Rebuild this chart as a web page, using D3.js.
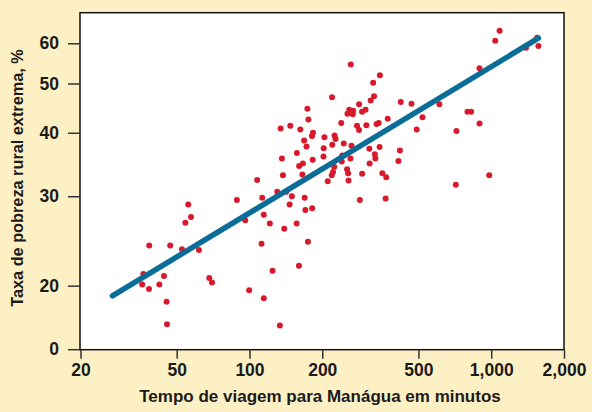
<!DOCTYPE html>
<html>
<head>
<meta charset="utf-8">
<script src="https://cdn.jsdelivr.net/npm/d3@7"></script>
<style>
  html, body { margin: 0; padding: 0; background: #fdf0c4; }
  svg { display: block; }
  text { font-family: "Liberation Sans", Arial, sans-serif; fill: #1b1b1b; }
</style>
</head>
<body>
<script>
// travel time to Managua (minutes) vs extreme rural poverty rate (%)
const travelMinutes = [
  36.4, 36.0, 38.4, 38.5, 42.4, 44.3, 45.4, 45.6, 47.0, 52.6,
  54.3, 55.8, 57.3, 61.8, 68.2, 70.0, 88.7, 96.0, 99.7, 107.6,
  112.2, 112.9, 114.6, 114.6, 121.4, 124.6, 130.3, 133.6, 137.5, 139.3,
  146.6, 149.8, 156.7, 160.2, 165.5, 169.1, 170.3, 174.5, 181.7, 210.7,
  173.6, 175.2, 134.5, 147.5, 162.3, 183.1, 181.3, 168.3, 204.2, 172.1,
  202.8, 157.1, 136.2, 182.6, 202.4, 166.3, 160.5, 262.5, 346.3, 324.8,
  219.5, 327.6, 317.2, 284.1, 258.8, 268.3, 254.3, 267.5, 292.1, 302.1,
  422.4, 467.9, 610.2, 373.1, 519.7, 239.7, 278.5, 283.9, 304.4, 335.5,
  342.3, 491.7, 224.8, 227.0, 220.0, 245.5, 264.2, 313.2, 345.3, 242.0,
  261.7, 330.1, 331.7, 240.8, 314.1, 413.2, 419.2, 717.9, 797.4, 826.1,
  894.2, 894.2, 1039, 1083, 1393, 1548, 1567, 224.2, 253.4, 255.8,
  221.6, 218.9, 292.4, 354.6, 367.8, 981.1, 256.8, 713.7, 286.1, 365.7,
  142.0
];
const povertyRate = [
  21.1, 20.1, 19.7, 24.0, 20.1, 20.9, 18.6, 16.8, 24.0, 23.6,
  26.6, 28.9, 27.3, 23.5, 20.7, 20.3, 29.5, 26.9, 19.6, 32.3,
  24.2, 29.8, 27.6, 18.9, 26.5, 21.4, 30.6, 16.7, 33.0, 25.9,
  28.9, 30.0, 26.5, 21.9, 33.1, 29.8, 28.2, 24.4, 28.4, 32.1,
  44.6, 42.5, 40.8, 41.3, 40.6, 40.0, 39.4, 38.6, 39.2, 37.6,
  37.3, 36.5, 35.6, 35.4, 35.9, 34.8, 34.4, 54.5, 51.9, 50.2,
  47.0, 47.2, 46.3, 45.5, 44.4, 44.2, 43.6, 43.5, 44.0, 44.4,
  46.0, 45.6, 45.5, 42.6, 42.9, 41.8, 41.3, 40.5, 41.4, 41.6,
  41.8, 40.6, 39.5, 38.9, 37.9, 38.1, 37.7, 37.2, 37.5, 36.1,
  35.6, 36.3, 35.6, 35.1, 34.8, 35.2, 36.9, 40.3, 44.0, 44.0,
  41.7, 53.6, 60.7, 63.5, 58.8, 61.5, 59.3, 34.3, 33.9, 33.3,
  33.5, 33.0, 33.2, 33.3, 32.7, 33.0, 32.2, 31.6, 29.5, 29.7,
  30.6
];
// fitted line end points
const fitMinutes = [27.1, 1567];
const fitRate = [19.1, 61.4];

const xTicks = [20, 50, 100, 200, 500, 1000, 2000];
const yTicks = [20, 30, 40, 50, 60];
const yBreakLabel = '0';

const W = 592, H = 412;
const box = { left: 80, top: 12.7, right: 564, bottom: 349.7 };

const svg = d3.select('body').append('svg')
    .attr('width', W)
    .attr('height', H);

const x = d3.scaleLog().domain([20, 2000]).range([80.5, 564]);
const y = d3.scaleLog().domain([20, 60]).range([285.7, 43.3]);

// plot area
svg.append('rect')
    .attr('x', box.left).attr('y', box.top)
    .attr('width', box.right - box.left)
    .attr('height', box.bottom - box.top)
    .attr('fill', '#fff')
    .attr('stroke', '#111')
    .attr('stroke-width', 1.5);

// axes
const yAxis = svg.append('g')
    .attr('transform', `translate(${box.left},0)`)
    .call(d3.axisLeft(y).tickValues(yTicks).tickFormat(d3.format('d')).tickSize(12).tickPadding(9));

const xAxis = svg.append('g')
    .attr('transform', `translate(0,${box.bottom})`)
    .call(d3.axisBottom(x).tickValues(xTicks).tickFormat(d3.format(',')).tickSize(9).tickPadding(5));

[xAxis, yAxis].forEach(g => {
    g.select('.domain').remove();
    g.selectAll('line').attr('stroke', '#333').attr('stroke-width', 1.5);
    g.selectAll('text')
        .style('font-family', '"Liberation Sans", Arial, sans-serif')
        .style('font-size', '17.5px')
        .style('font-weight', 'bold')
        .attr('fill', '#1b1b1b');
});

// "0" at the broken bottom of the y axis
const zero = svg.append('g').attr('transform', `translate(${box.left},${box.bottom})`);
zero.append('line').attr('x1', -12).attr('x2', 0).attr('stroke', '#333').attr('stroke-width', 1.5);
zero.append('text')
    .attr('x', -21).attr('dy', '0.32em')
    .attr('text-anchor', 'end')
    .style('font-size', '17.5px')
    .style('font-weight', 'bold')
    .text(yBreakLabel);

// points
svg.append('g')
  .selectAll('circle')
  .data(travelMinutes.map((m, i) => [m, povertyRate[i]]))
  .join('circle')
    .attr('cx', d => x(d[0]))
    .attr('cy', d => y(d[1]))
    .attr('r', 3)
    .attr('fill', '#d8192c');

// fitted line
svg.append('path')
    .datum(fitMinutes.map((m, i) => [m, fitRate[i]]))
    .attr('d', d3.line().x(d => x(d[0])).y(d => y(d[1])))
    .attr('stroke', '#0a6d97')
    .attr('stroke-width', 5.5)
    .attr('stroke-linecap', 'round')
    .attr('fill', 'none');

// axis titles
svg.append('text')
    .attr('x', 320).attr('y', 402)
    .attr('text-anchor', 'middle')
    .style('font-size', '17px')
    .style('font-weight', 'bold')
    .text('Tempo de viagem para Manágua em minutos');

svg.append('text')
    .attr('transform', 'translate(23,178) rotate(-90)')
    .attr('text-anchor', 'middle')
    .style('font-size', '16.3px')
    .style('font-weight', 'bold')
    .text('Taxa de pobreza rural extrema, %');
</script>
</body>
</html>
